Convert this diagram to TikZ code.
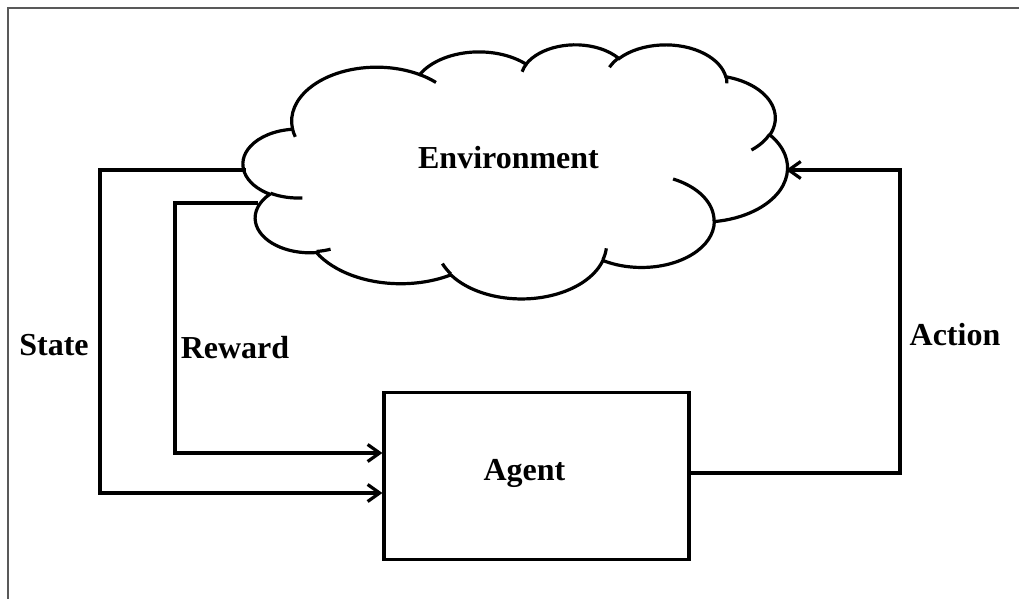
\documentclass[tikz,border=0pt]{standalone}
\usepackage{fontspec}
\setmainfont{Liberation Serif}
\usetikzlibrary{arrows.meta,calc}
\makeatletter
% name, x radius, y radius, start (visual, deg), sweep (visual, deg)
\newcommand\cldang[5]{%
  \pgfmathsetmacro\cl@a{atan2((#2)*sin(#4),(#3)*cos(#4))}%
  \pgfmathsetmacro\cl@b{atan2((#2)*sin((#4)+(#5)),(#3)*cos((#4)+(#5)))}%
  \pgfmathsetmacro\cl@d{\cl@b-\cl@a-(#5)}%
  \pgfmathsetmacro\cl@b{\cl@b-360*round(\cl@d/360)}%
  \expandafter\xdef\csname cl#1s\endcsname{\cl@a}%
  \expandafter\xdef\csname cl#1e\endcsname{\cl@b}%
}
\makeatother
\begin{document}
\begin{tikzpicture}[x=1pt,y=-1pt,
  conn/.style={line width=3.2pt},
  arrowend/.style={-{Straight Barb[length=12pt,width=17pt]}},
  lbl/.style={font=\fontsize{32}{38}\selectfont\bfseries, inner sep=0pt, anchor=base},
  cloudline/.style={line width=3.2pt},
  frameline/.style={line width=1.2pt, draw=black!65}]
\useasboundingbox (0,0) rectangle (1019,599);
\fill[white] (0,0) rectangle (1019,599);
% frame
\draw[frameline] (8,599) -- (8,8) -- (1019,8);
% cloud angles
\cldang{a}{67.53}{91.90}{-190.4875}{123.7805}
\cldang{b}{53.33}{72.67}{-144.1024}{89.9452}
\cldang{c}{43.65}{59.45}{-145.8079}{99.7230}
\cldang{d}{48.57}{65.95}{-130.9861}{117.2417}
\cldang{e}{53.33}{72.73}{-78.7089}{109.0269}
\cldang{f}{67.75}{92.20}{-46.2673}{130.2690}
\cldang{g}{57.85}{78.67}{0.6250}{114.0333}
\cldang{h}{67.52}{92.15}{22.4516}{115.1726}
\cldang{i}{77.20}{105.43}{66.2426}{75.7110}
\cldang{j}{43.60}{59.18}{-274.9421}{146.7356}
\cldang{k}{43.45}{59.45}{-246.8285}{152.5189}
\cldang{l}{43.45}{59.45}{86.7420}{26.4295}
\cldang{m}{43.60}{59.18}{73.6105}{11.4475}
\cldang{n}{67.52}{92.15}{137.6242}{14.0811}
\cldang{o}{67.52}{92.15}{6.4533}{15.9984}
\cldang{p}{57.85}{78.67}{-70.2924}{70.9174}
\cldang{q}{53.33}{72.73}{30.3180}{27.7515}
\cldang{r}{48.57}{65.95}{-13.7443}{14.8538}
\cldang{s}{48.57}{65.95}{-149.1815}{18.1959}
\cldang{t}{43.65}{59.45}{-163.4943}{17.6864}
\cldang{u}{67.53}{91.90}{-66.7070}{12.3194}
\cldang{v}{67.53}{91.90}{157.6544}{11.8582}
\begin{scope}[shift={(243.3,44)}, xscale=1.2593, yscale=0.588]
\draw[cloudline, fill=white] (39.00,143.70)
  arc[x radius=67.53, y radius=91.90, start angle=\clas, end angle=\clae]
  arc[x radius=53.33, y radius=72.67, start angle=\clbs, end angle=\clbe]
  arc[x radius=43.65, y radius=59.45, start angle=\clcs, end angle=\clce]
  arc[x radius=48.57, y radius=65.95, start angle=\clds, end angle=\clde]
  arc[x radius=53.33, y radius=72.73, start angle=\cles, end angle=\clee]
  arc[x radius=67.75, y radius=92.20, start angle=\clfs, end angle=\clfe]
  arc[x radius=57.85, y radius=78.67, start angle=\clgs, end angle=\clge]
  arc[x radius=67.52, y radius=92.15, start angle=\clhs, end angle=\clhe]
  arc[x radius=77.20, y radius=105.43, start angle=\clis, end angle=\clie]
  arc[x radius=43.60, y radius=59.18, start angle=\cljs, end angle=\clje]
  arc[x radius=43.45, y radius=59.45, start angle=\clks, end angle=\clke]
  -- cycle;
\draw[cloudline] (46.93,261.77) arc[x radius=43.45, y radius=59.45, start angle=\clls, end angle=\clle];
\draw[cloudline] (69.28,348.99) arc[x radius=43.60, y radius=59.18, start angle=\clms, end angle=\clme];
\draw[cloudline] (164.78,390.90) arc[x radius=67.52, y radius=92.15, start angle=\clns, end angle=\clne];
\draw[cloudline] (288.27,347.51) arc[x radius=67.52, y radius=92.15, start angle=\clos, end angle=\cloe];
\draw[cloudline] (341.29,229.54) arc[x radius=57.85, y radius=78.67, start angle=\clps, end angle=\clpe];
\draw[cloudline] (417.98,153.54) arc[x radius=53.33, y radius=72.73, start angle=\clqs, end angle=\clqe];
\draw[cloudline] (383.24,54.26) arc[x radius=48.57, y radius=65.95, start angle=\clrs, end angle=\clre];
\draw[cloudline] (290.78,39.52) arc[x radius=48.57, y radius=65.95, start angle=\clss, end angle=\clse];
\draw[cloudline] (221.41,47.20) arc[x radius=43.65, y radius=59.45, start angle=\clts, end angle=\clte];
\draw[cloudline] (140.00,51.92) arc[x radius=67.53, y radius=91.90, start angle=\clus, end angle=\clue];
\draw[cloudline] (41.27,157.89) arc[x radius=67.53, y radius=91.90, start angle=\clvs, end angle=\clve];
\end{scope}
% named points on the cloud outline
\coordinate (envS) at (246,170);
\coordinate (envW) at (258,203);
\coordinate (envR) at (786,170);
\node[lbl] (env) at (508.5,168) {Environment};
% agent
\node[draw, line width=3.2pt, minimum width=305pt, minimum height=167pt, inner sep=0pt] (agent) at (536.5,476) {};
\node[lbl] (agentlbl) at (524.5,480) {Agent};
% corners
\coordinate (sC) at (100,170);
\coordinate (rC) at (175,203);
\coordinate (aC) at (900,170);
% connectors
\draw[conn, arrowend] (envS) -- (sC) |- ($(agent.west)+(0,17)$);
\draw[conn, arrowend] (envW) -- (rC) |- ($(agent.west)+(0,-23)$);
\draw[conn, arrowend] ($(agent.east)+(0,-3)$) -| (aC) -- (envR);
% labels
\node[lbl] (state) at (54,355) {State};
\node[lbl] (reward) at (235,358) {Reward};
\node[lbl] (action) at (955,345) {Action};
\end{tikzpicture}
\end{document}
